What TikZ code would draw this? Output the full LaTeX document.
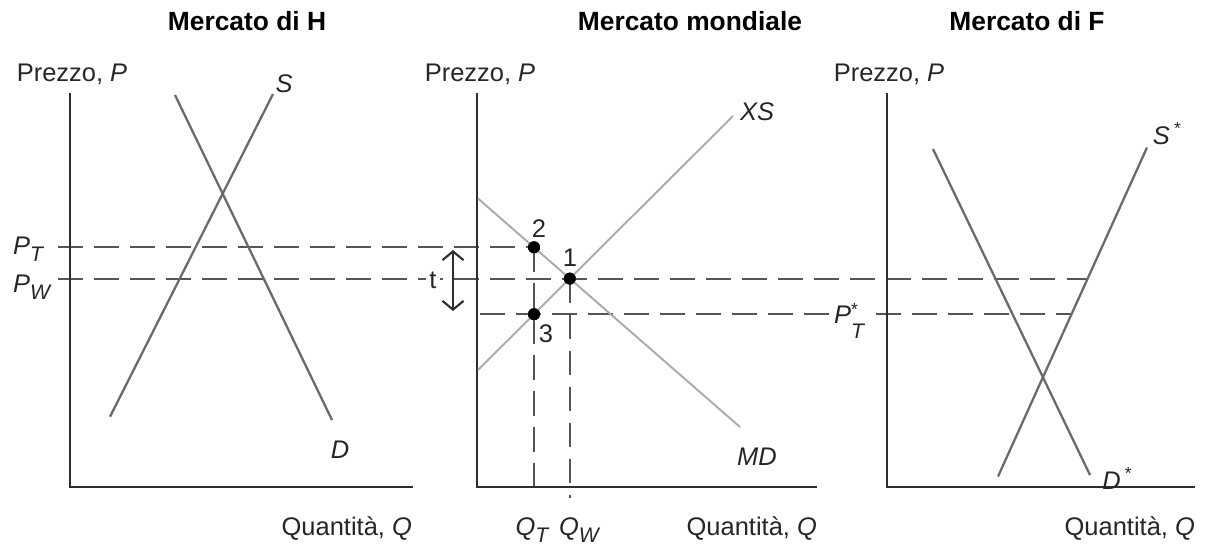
\documentclass[tikz,border=0pt]{standalone}
\usepackage{fontspec}
\setmainfont{Liberation Sans}
\usetikzlibrary{arrows.meta}
\definecolor{axisc}{HTML}{2E2E2E}
\definecolor{curvec}{HTML}{6A6A6A}
\definecolor{lightc}{HTML}{ABABAB}
\definecolor{dashc}{HTML}{555555}
\newcommand{\vi}[1]{\textit{#1}}
\newcommand{\subi}[1]{\raisebox{-0.5ex}{\fontsize{12}{13}\selectfont\itshape #1}}
\newcommand{\stari}{\raisebox{0.75ex}{\fontsize{10}{11}\selectfont *}}
\begin{document}
\begin{tikzpicture}[x=0.02cm,y=-0.02cm,
  axis/.style={line width=1.5pt, draw=axisc},
  curve/.style={line width=1.3pt, draw=curvec},
  wcurve/.style={line width=1.1pt, draw=lightc},
  guide/.style={line width=1.05pt, draw=dashc, dash pattern=on 14pt off 6.5pt},
  lbl/.style={font=\fontsize{14.5}{17}\selectfont, inner sep=1pt, text=black!85},
  ttl/.style={font=\fontsize{15}{18}\selectfont\bfseries, inner sep=1pt},
  dot/.style={circle, fill=black, inner sep=0pt, minimum size=0.24cm},
  tarrow/.style={line width=1.2pt, draw=axisc, {Straight Barb[length=5pt,width=12pt]}-{Straight Barb[length=5pt,width=12pt]}}]
\useasboundingbox (0,0) rectangle (1207,549);

% titles
\node[ttl] (tH) at (247,21) {Mercato di H};
\node[ttl] (tW) at (690,21) {Mercato mondiale};
\node[ttl] (tF) at (1027,21) {Mercato di F};

% axes
\coordinate (HY) at (70,93); \coordinate (HO) at (70,487); \coordinate (HX) at (413,487);
\coordinate (WY) at (477,93); \coordinate (WO) at (477,487); \coordinate (WX) at (817,487);
\coordinate (FY) at (887,93); \coordinate (FO) at (887,487); \coordinate (FX) at (1195,487);

% points in world market
\node[dot] (p2) at (534,247.3) {};
\node[dot] (p1) at (569.8,278.6) {};
\node[dot] (p3) at (534,314.2) {};

% dashed guides
\coordinate (PTs) at (58,247.3);
\coordinate (PWs) at (58,278.6);
\coordinate (PWe) at (1088,278.6);
\coordinate (PSs) at (480,314.2);
\coordinate (PSe) at (1071,314.2);
\coordinate (QTe) at (534,498);
\coordinate (QWe) at (569.8,498);
\draw[guide] (PTs) -- (p2.center);
\draw[guide] (PWs) -- (PWe);
\draw[guide] (PSs) -- (PSe);
\draw[guide] (p2.center) -- (QTe);
\draw[guide] (p1.center) -- (QWe);

\draw[axis] (HY) -- (HO) -- (HX);
\draw[axis] (WY) -- (WO) -- (WX);
\draw[axis] (FY) -- (FO) -- (FX);

% home market
\coordinate (Sa) at (110,416.7); \coordinate (Sb) at (273,94);
\coordinate (Da) at (175,95); \coordinate (Db) at (332,420);
\draw[curve] (Sa) -- (Sb);
\draw[curve] (Da) -- (Db);

% world market
\coordinate (XSa) at (478,370); \coordinate (XSb) at (733,116);
\coordinate (MDa) at (478,198.5); \coordinate (MDb) at (740,427);
\draw[wcurve] (XSa) -- (XSb);
\draw[wcurve] (MDa) -- (MDb);

% foreign market
\coordinate (Ssa) at (998,476.5); \coordinate (Ssb) at (1147,147.5);
\coordinate (Dsa) at (933,149); \coordinate (Dsb) at (1090,475);
\draw[curve] (Ssa) -- (Ssb);
\draw[curve] (Dsa) -- (Dsb);

% redraw dots on top
\node[dot] at (p2) {};
\node[dot] at (p1) {};
\node[dot] at (p3) {};

% tariff arrow
\coordinate (ta) at (453,250); \coordinate (tb) at (453,311);
\draw[tarrow] (ta) -- (tb);
\node[lbl, fill=white, inner sep=2pt] (tl) at (433,280) {t};

% labels
\node[lbl] (prH) at (72,74) {Prezzo, \vi{P}};
\node[lbl] (prW) at (480,74) {Prezzo, \vi{P}};
\node[lbl] (prF) at (889,74) {Prezzo, \vi{P}};
\node[lbl, anchor=east] (qH) at (414,529) {Quantità, \vi{Q}};
\node[lbl, anchor=east] (qW) at (819,529) {Quantità, \vi{Q}};
\node[lbl, anchor=east] (qF) at (1197,529) {Quantità, \vi{Q}};

\node[lbl] (lS) at (284,84) {\vi{S}};
\node[lbl] (lD) at (340,450) {\vi{D}};
\node[lbl] (lXS) at (757,112) {\vi{XS}};
\node[lbl] (lMD) at (757,457) {\vi{MD}};
\node[lbl] (lSs) at (1167,134) {\vi{S}\,\stari};
\node[lbl] (lDs) at (1117,478) {\vi{D}\,\stari};

\node[lbl, anchor=west] (lPT) at (11,249) {\vi{P}\subi{T}};
\node[lbl, anchor=west] (lPW) at (11,287) {\vi{P}\subi{W}};
\node[lbl, fill=white, inner sep=2pt] (lPTs) at (849,321) {\vi{P}\raisebox{-1.1ex}{\shortstack[l]{\fontsize{10}{9}\selectfont *\\[0.25ex]\fontsize{12}{12}\selectfont\itshape T}}};

\node[lbl] (n2) at (539,229) {2};
\node[lbl] (n1) at (570,258) {1};
\node[lbl] (n3) at (546,334) {3};
\node[lbl] (lQT) at (532,530) {\vi{Q}\subi{T}};
\node[lbl] (lQW) at (579,530) {\vi{Q}\subi{W}};
\end{tikzpicture}
\end{document}
